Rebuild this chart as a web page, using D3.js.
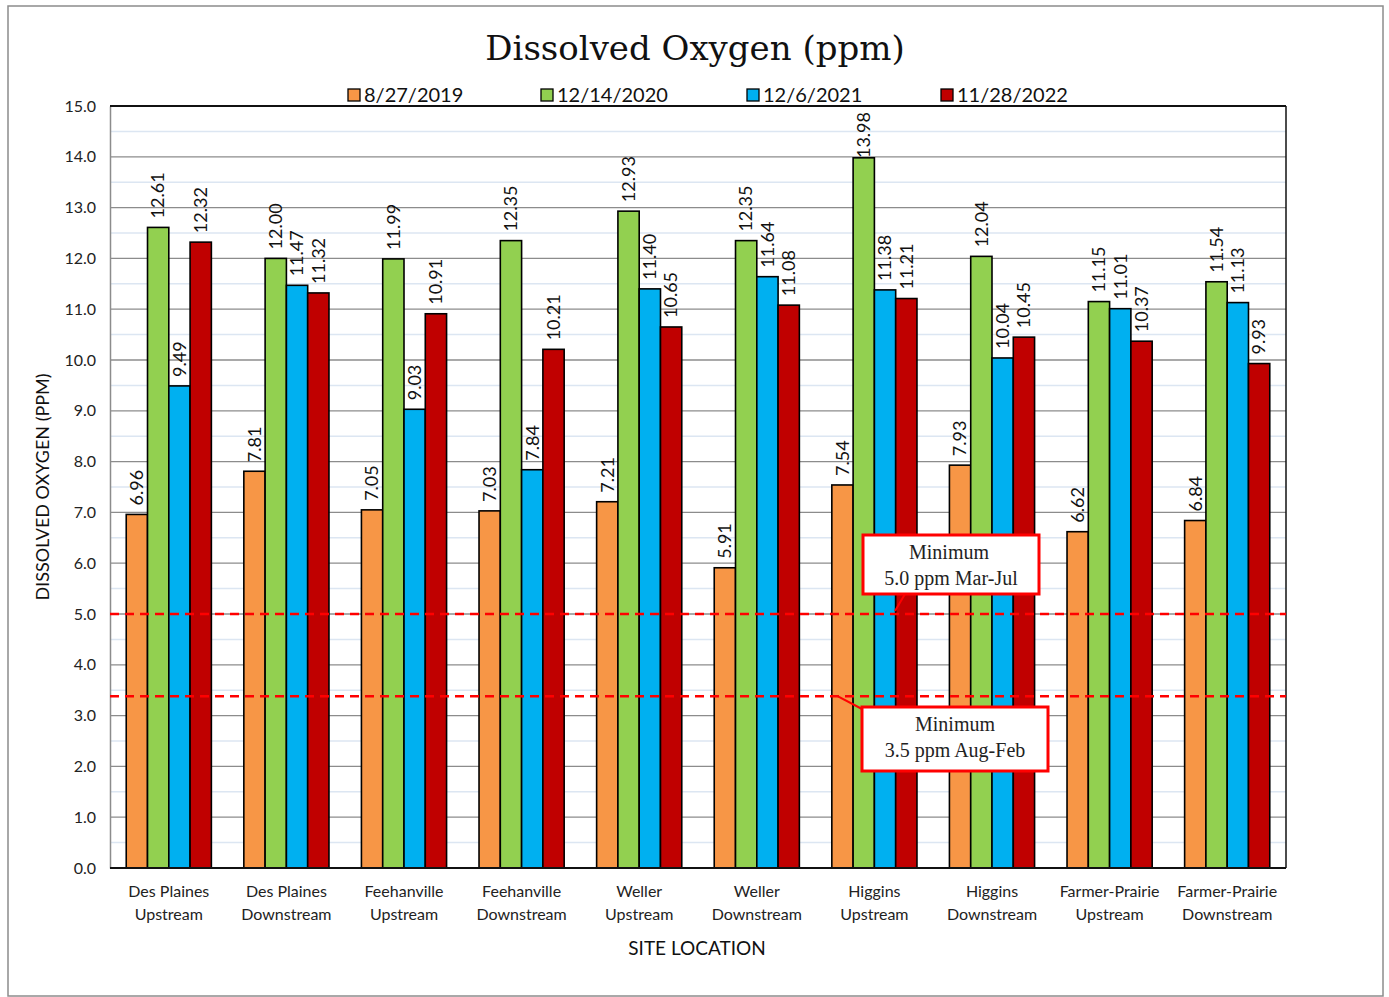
<!DOCTYPE html>
<html><head><meta charset="utf-8">
<script src="https://cdn.jsdelivr.net/npm/d3@7"></script>
<style>body{margin:0;background:#fff}svg{display:block}</style>
</head><body>
<svg id="c" width="1389" height="997"></svg>
<script>
const categories = [
  ["Des Plaines","Upstream"],["Des Plaines","Downstream"],
  ["Feehanville","Upstream"],["Feehanville","Downstream"],
  ["Weller","Upstream"],["Weller","Downstream"],
  ["Higgins","Upstream"],["Higgins","Downstream"],
  ["Farmer-Prairie","Upstream"],["Farmer-Prairie","Downstream"]
];
const seriesNames = ["8/27/2019","12/14/2020","12/6/2021","11/28/2022"];
const seriesColors = ["#F79646","#92D050","#00B0F0","#C00000"];
const s2019 = [6.96,7.81,7.05,7.03,7.21,5.91,7.54,7.93,6.62,6.84];
const s2020 = [12.61,12.00,11.99,12.35,12.93,12.35,13.98,12.04,11.15,11.54];
const s2021 = [9.49,11.47,9.03,7.84,11.40,11.64,11.38,10.04,11.01,11.13];
const s2022 = [12.32,11.32,10.91,10.21,10.65,11.08,11.21,10.45,10.37,9.93];
const seriesValues = [s2019,s2020,s2021,s2022];
const yTicks = [0,1,2,3,4,5,6,7,8,9,10,11,12,13,14,15];
const minorTicks = [0.5,1.5,2.5,3.5,4.5,5.5,6.5,7.5,8.5,9.5,10.5,11.5,12.5,13.5,14.5];
const thresholds = [5.0, 3.38];
const annotations = [["Minimum","5.0 ppm Mar-Jul"],["Minimum","3.5 ppm Aug-Feb"]];

const svg = d3.select("#c");
const L=110, R=1286, T=106, B=868;
const y = d3.scaleLinear().domain([0,15]).range([B,T]);
const x0 = d3.scaleBand().domain(d3.range(categories.length)).range([L,R]).paddingInner(0.276).paddingOuter(0.138);
const x1 = d3.scaleBand().domain(d3.range(seriesNames.length)).range([0,x0.bandwidth()]);

// outer frame
svg.append("rect").attr("x",8).attr("y",6).attr("width",1375).attr("height",990)
  .attr("fill","none").attr("stroke","#8c8c8c").attr("stroke-width",1.5);

// minor grid
svg.append("g").selectAll("line").data(minorTicks).join("line")
  .attr("x1",L).attr("x2",R).attr("y1",d=>y(d)).attr("y2",d=>y(d))
  .attr("stroke","#DCE6F2").attr("stroke-width",1.5);
// major grid
svg.append("g").selectAll("line").data(yTicks).join("line")
  .attr("x1",L).attr("x2",R).attr("y1",d=>y(d)).attr("y2",d=>y(d))
  .attr("stroke","#8c8c8c").attr("stroke-width",1.3);

// y axis
const yAxis = d3.axisLeft(y).tickValues(yTicks).tickFormat(d3.format(".1f")).tickSize(0).tickPadding(14);
const ga = svg.append("g").attr("transform",`translate(${L},0)`).call(yAxis);
ga.select(".domain").attr("stroke","#8c8c8c").attr("stroke-width",1.5);
ga.selectAll("text").attr("font-family","Lato, 'Open Sans', sans-serif").attr("font-size",16).attr("fill","#222");

// bars
const groups = svg.append("g").selectAll("g").data(categories).join("g")
  .attr("transform",(d,i)=>`translate(${x0(i)},0)`);
groups.selectAll("rect").data((d,i)=>seriesValues.map((s,k)=>({k,v:s[i]}))).join("rect")
  .attr("x",d=>x1(d.k)).attr("width",x1.bandwidth())
  .attr("y",d=>y(d.v)).attr("height",d=>B-y(d.v))
  .attr("fill",d=>seriesColors[d.k]).attr("stroke","#000").attr("stroke-width",1.6);
groups.selectAll("text").data((d,i)=>seriesValues.map((s,k)=>({k,v:s[i]}))).join("text")
  .attr("dy","0.35em").attr("text-anchor","start")
  .attr("font-family","Lato, 'Open Sans', sans-serif").attr("font-size",18).attr("fill","#111")
  .text(d=>d3.format(".2f")(d.v))
  .attr("transform",function(d){
    const len = this.getComputedTextLength();
    const start = Math.max(y(d.v)-9, T+6+len);
    return `translate(${x1(d.k)+x1.bandwidth()/2},${start}) rotate(-90)`;
  });

// plot border
svg.append("line").attr("x1",L).attr("x2",R).attr("y1",T).attr("y2",T).attr("stroke","#111").attr("stroke-width",2);
svg.append("line").attr("x1",R).attr("x2",R).attr("y1",T).attr("y2",B).attr("stroke","#111").attr("stroke-width",1.5);
svg.append("line").attr("x1",L).attr("x2",R).attr("y1",B).attr("y2",B).attr("stroke","#111").attr("stroke-width",2.2);

// threshold lines
svg.append("g").selectAll("line").data(thresholds).join("line")
  .attr("x1",L).attr("x2",R).attr("y1",d=>y(d)).attr("y2",d=>y(d))
  .attr("stroke","#FF0000").attr("stroke-width",2.5).attr("stroke-dasharray","9,6");

// annotations
const boxes = [
  {x:863,y:535,w:176,h:59, lx1:905,ly1:594, lx2:895,ly2:y(thresholds[0])-3},
  {x:862,y:707,w:186,h:64, lx1:862,ly1:709, lx2:838,ly2:y(thresholds[1])}
];
boxes.forEach((b,i)=>{
  svg.append("line").attr("x1",b.lx1).attr("y1",b.ly1).attr("x2",b.lx2).attr("y2",b.ly2)
    .attr("stroke","#FF0000").attr("stroke-width",2);
  svg.append("rect").attr("x",b.x).attr("y",b.y).attr("width",b.w).attr("height",b.h)
    .attr("fill","#fff").attr("stroke","#FF0000").attr("stroke-width",3);
  const t = svg.append("text").attr("text-anchor","middle")
    .attr("font-family","'Liberation Serif', 'Times New Roman', serif").attr("font-size",20).attr("fill","#222");
  t.append("tspan").attr("x",b.x+b.w/2 - (i===0?2:0)).attr("y",b.y+24).text(annotations[i][0]);
  t.append("tspan").attr("x",b.x+b.w/2).attr("y",b.y+50).text(annotations[i][1]);
});

// x labels
const xl = svg.append("g").selectAll("text").data(categories).join("text")
  .attr("text-anchor","middle").attr("font-family","Lato, 'Open Sans', sans-serif").attr("font-size",16).attr("fill","#222");
xl.append("tspan").attr("x",(d,i)=>x0(i)+x0.bandwidth()/2).attr("y",897).text(d=>d[0]);
xl.append("tspan").attr("x",(d,i)=>x0(i)+x0.bandwidth()/2).attr("y",920).text(d=>d[1]);

// axis titles
svg.append("text").attr("x",697).attr("y",955).attr("text-anchor","middle")
  .attr("font-family","Lato, 'Open Sans', sans-serif").attr("font-size",19).attr("fill","#111").text("SITE LOCATION");
svg.append("text").attr("transform","translate(49,487) rotate(-90)").attr("text-anchor","middle")
  .attr("font-family","Lato, 'Open Sans', sans-serif").attr("font-size",18).attr("fill","#111").text("DISSOLVED OXYGEN (PPM)");

// title
svg.append("text").attr("x",695).attr("y",60).attr("text-anchor","middle")
  .attr("font-family","'DejaVu Serif', 'Liberation Serif', serif").attr("font-size",34).attr("fill","#111")
  .text("Dissolved Oxygen (ppm)");

// legend
const legX = [348,541,747,941];
const lg = svg.append("g").selectAll("g").data(seriesNames).join("g")
  .attr("transform",(d,i)=>`translate(${legX[i]},89)`);
lg.append("rect").attr("width",12).attr("height",12).attr("fill",(d,i)=>seriesColors[i]).attr("stroke","#000").attr("stroke-width",1.3);
lg.append("text").attr("x",16).attr("y",13).attr("font-family","Lato, 'Open Sans', sans-serif").attr("font-size",20).attr("fill","#111").text(d=>d);
</script>
</body></html>
